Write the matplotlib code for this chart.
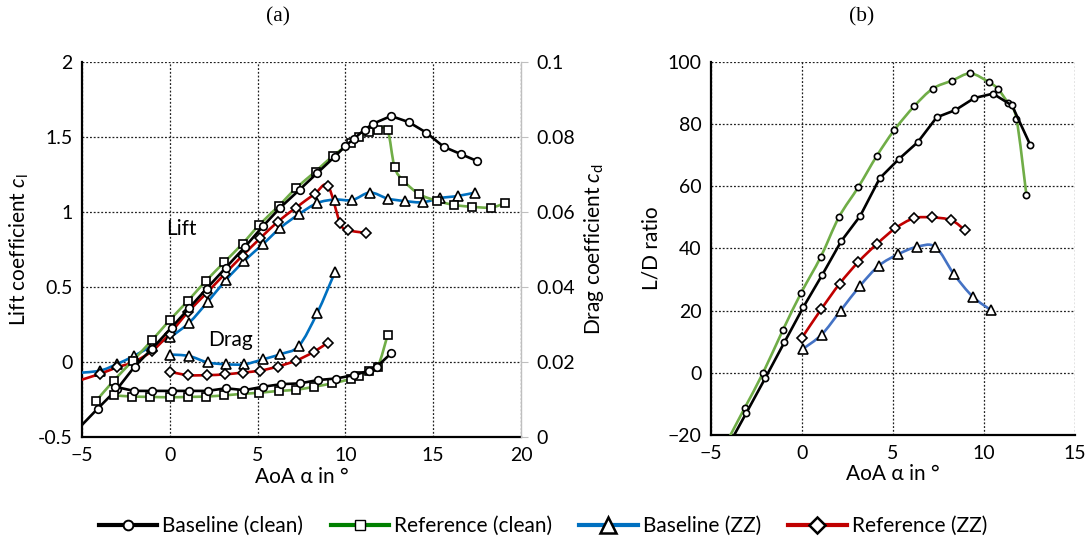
import numpy as np
import matplotlib
matplotlib.use('Agg')
import matplotlib.pyplot as plt
from matplotlib.path import Path
from matplotlib.patches import PathPatch
from matplotlib.lines import Line2D

plt.rcParams['font.family'] = ['Lato', 'DejaVu Sans']
plt.rcParams['mathtext.fontset'] = 'custom'
plt.rcParams['mathtext.rm'] = 'Lato'
plt.rcParams['mathtext.it'] = 'Lato:italic'

# ---------------- data: panel (a) lift ----------------
bc_lift_x = [-5.5, -4.1, -3.0, -2.0, -1.0, 0.1, 1.1, 2.1, 3.2, 4.3, 5.3, 6.3, 7.4, 8.4, 9.4,
             10.0, 10.5, 11.1, 11.6, 12.6, 13.6, 14.6, 15.6, 16.6, 17.5]
bc_lift_y = [-0.48, -0.31, -0.18, -0.03, 0.09, 0.23, 0.36, 0.49, 0.63, 0.77, 0.905, 1.03, 1.15, 1.26, 1.37,
             1.44, 1.49, 1.55, 1.59, 1.64, 1.60, 1.53, 1.435, 1.385, 1.34]

rc_lift_x = [-4.2, -3.2, -2.1, -1.0, 0.0, 1.05, 2.05, 3.1, 4.15, 5.1, 6.2, 7.2, 8.3, 9.3, 10.3,
             10.8, 11.35, 11.85, 12.4, 12.8, 13.3, 14.2, 15.2, 16.2, 17.2, 18.3, 19.1]
rc_lift_y = [-0.26, -0.125, 0.01, 0.147, 0.28, 0.41, 0.54, 0.665, 0.79, 0.915, 1.04, 1.16, 1.27, 1.375, 1.46,
             1.50, 1.535, 1.55, 1.547, 1.30, 1.21, 1.12, 1.075, 1.047, 1.035, 1.03, 1.06]

bz_lift_x = [-5.5, -4.0, -3.0, -2.05, -1.0, 0.0, 1.1, 2.15, 3.2, 4.25, 5.3, 6.3, 7.35, 8.4, 9.4,
             10.4, 11.4, 12.4, 13.4, 14.4, 15.4, 16.4, 17.4]
bz_lift_y = [-0.075, -0.058, -0.013, 0.04, 0.107, 0.165, 0.262, 0.40, 0.547, 0.675, 0.785, 0.895, 0.985, 1.06, 1.083,
             1.08, 1.13, 1.09, 1.073, 1.065, 1.093, 1.107, 1.13]

rz_lift_x = [-5.5, -4.0, -3.0, -2.05, -1.0, 0.0, 1.05, 2.1, 3.15, 4.15, 5.15, 6.15, 7.2, 8.25, 9.0,
             9.7, 10.15, 11.2]
rz_lift_y = [-0.135, -0.08, -0.035, 0.0, 0.075, 0.19, 0.335, 0.46, 0.59, 0.71, 0.825, 0.935, 1.03, 1.12, 1.175,
             0.925, 0.88, 0.86]

# ---------------- data: panel (a) drag ----------------
bc_drag_x = [-3.1, -2.05, -1.0, 0.1, 1.1, 2.15, 3.2, 4.25, 5.3, 6.35, 7.4, 8.45, 9.45, 10.5, 11.35, 11.8, 12.6]
bc_drag_y = [0.0134, 0.0123, 0.0123, 0.0123, 0.0123, 0.0123, 0.0130, 0.0125, 0.0134, 0.0141, 0.0143, 0.0152,
             0.0156, 0.0165, 0.0177, 0.0188, 0.0223]

rc_drag_x = [-3.15, -2.15, -1.1, 0.0, 1.05, 2.05, 3.1, 4.1, 5.1, 6.2, 7.2, 8.2, 9.25, 10.3, 10.8, 11.35, 11.85, 12.4]
rc_drag_y = [0.0111, 0.0108, 0.0107, 0.0106, 0.0107, 0.0108, 0.0111, 0.0115, 0.0118, 0.0123, 0.0126, 0.0134,
             0.0143, 0.0155, 0.0164, 0.0177, 0.0188, 0.0271]

bz_drag_x = [0.0, 1.1, 2.15, 3.2, 4.25, 5.3, 6.3, 7.35, 8.4, 9.4]
bz_drag_y = [0.0220, 0.0216, 0.0199, 0.0194, 0.0194, 0.0207, 0.0221, 0.0243, 0.0331, 0.0439]

rz_drag_x = [0.0, 1.05, 2.1, 3.15, 4.15, 5.15, 6.15, 7.2, 8.2, 9.0]
rz_drag_y = [0.0174, 0.0165, 0.0165, 0.0167, 0.0172, 0.0177, 0.0188, 0.0204, 0.0227, 0.0252]

# ---------------- data: panel (b) L/D ----------------
bc_ld_x = [-4.1, -3.06, -2.01, -0.97, 0.07, 1.12, 2.16, 3.2, 4.27, 5.31, 6.36, 7.4, 8.42, 9.47, 10.49, 11.54, 12.55]
bc_ld_y = [-24.0, -12.9, -1.6, 9.8, 21.1, 31.6, 42.4, 50.5, 62.6, 68.7, 74.2, 82.2, 84.5, 88.4, 89.8, 86.0, 73.2]

rc_ld_x = [-4.2, -3.15, -2.14, -1.04, -0.04, 1.03, 2.03, 3.1, 4.1, 5.07, 6.17, 7.18, 8.24, 9.25, 10.27,
           10.77, 11.32, 11.78, 12.33]
rc_ld_y = [-23.0, -11.3, 0.0, 13.9, 25.8, 37.3, 50.1, 59.8, 69.7, 78.1, 85.8, 91.4, 94.0, 96.3, 93.5,
           91.3, 86.7, 81.8, 57.1]

bz_ld_x = [0.05, 1.08, 2.12, 3.19, 4.23, 5.27, 6.3, 7.33, 8.35, 9.38, 10.4]
bz_ld_y = [7.7, 12.3, 20.0, 28.0, 34.5, 38.1, 40.5, 40.5, 31.7, 24.5, 20.1]

rz_ld_x = [0.0, 1.06, 2.07, 3.1, 4.14, 5.13, 6.14, 7.12, 8.2, 8.97]
rz_ld_y = [11.3, 20.5, 28.7, 35.7, 41.6, 46.5, 49.7, 50.0, 49.1, 45.8]

legend_labels = ['Baseline (clean)', 'Reference (clean)', 'Baseline (ZZ)', 'Reference (ZZ)']

C_BLACK = '#000000'
C_GREEN = '#70AD47'
C_BLUE = '#0070C0'
C_RED = '#C00000'
C_BLUE_B = '#4472C4'

LW = 1.9


def smooth_path(x, y):
    P = np.column_stack([np.asarray(x, float), np.asarray(y, float)])
    n = len(P)
    verts = [P[0]]
    codes = [Path.MOVETO]
    for i in range(n - 1):
        p0 = P[i - 1] if i > 0 else P[i]
        p1 = P[i]
        p2 = P[i + 1]
        p3 = P[i + 2] if i + 2 < n else P[i + 1]
        verts += [p1 + (p2 - p0) / 6.0, p2 - (p3 - p1) / 6.0, p2]
        codes += [Path.CURVE4] * 3
    return Path(verts, codes)


def series(ax, x, y, color, marker, ms, smooth, z=3):
    if smooth:
        ax.add_patch(PathPatch(smooth_path(x, y), fill=False, edgecolor=color, lw=LW,
                               zorder=z, capstyle='round', joinstyle='round'))
    else:
        ax.plot(x, y, color=color, lw=LW, zorder=z, solid_joinstyle='round')
    ax.plot(x, y, ls='none', marker=marker, ms=ms, mfc='white', mec='black', mew=1.2, zorder=z + 0.5)


fig = plt.figure(figsize=(10.86, 5.46), dpi=100)

GRID_KW = dict(color='#202020', linestyle=(0, (1.5, 1.5)), linewidth=0.9)
TICK_FS = 14
LAB_FS = 15

# ---------------- panel (a) ----------------
ax = fig.add_axes([0.0755, 0.1996, 0.4042, 0.6868])
ax2 = ax.twinx()
ax.set_xlim(-5, 20)
ax.set_ylim(-0.5, 2)
ax2.set_ylim(0, 0.1)
ax.set_xticks([-5, 0, 5, 10, 15, 20])
ax.set_yticks([-0.5, 0, 0.5, 1, 1.5, 2])
ax.set_yticklabels(['-0.5', '0', '0.5', '1', '1.5', '2'])
ax2.set_yticks([0, 0.02, 0.04, 0.06, 0.08, 0.1])
ax2.set_yticklabels(['0', '0.02', '0.04', '0.06', '0.08', '0.1'])
ax.grid(True, **GRID_KW)
ax.set_axisbelow(True)
for s in ['top', 'right']:
    ax.spines[s].set_visible(False)
for s in ['top', 'left', 'bottom']:
    ax2.spines[s].set_visible(False)
ax2.spines['right'].set_color('#BFBFBF')
ax2.spines['right'].set_linewidth(1.0)
ax.spines['left'].set_linewidth(1.6)
ax.spines['bottom'].set_linewidth(1.6)
ax.tick_params(length=0, labelsize=TICK_FS, pad=7)
ax2.tick_params(length=5, color='#BFBFBF', labelsize=TICK_FS, pad=6)

series(ax, bz_lift_x, bz_lift_y, C_BLUE, '^', 6.5, True)
series(ax, rz_lift_x, rz_lift_y, C_RED, 'D', 4.8, True)
series(ax, rc_lift_x, rc_lift_y, C_GREEN, 's', 5.5, True)
series(ax, bc_lift_x, bc_lift_y, C_BLACK, 'o', 5.5, False, z=4)

series(ax2, bz_drag_x, bz_drag_y, C_BLUE, '^', 6.5, True)
series(ax2, rz_drag_x, rz_drag_y, C_RED, 'D', 4.8, True)
series(ax2, rc_drag_x, rc_drag_y, C_GREEN, 's', 5.5, True)
series(ax2, bc_drag_x, bc_drag_y, C_BLACK, 'o', 5.5, False, z=4)

ax.text(-0.2, 0.89, 'Lift', fontsize=15, va='center', ha='left')
ax.text(2.2, 0.15, 'Drag', fontsize=15, va='center', ha='left')

ax.set_xlabel('AoA α in °', fontsize=LAB_FS, labelpad=2)
ax.set_ylabel('Lift coefficient $c_\\mathrm{l}$', fontsize=LAB_FS, labelpad=5)
ax2.set_ylabel('Drag coefficient $c_\\mathrm{d}$', fontsize=LAB_FS, labelpad=5)

# ---------------- panel (b) ----------------
bx = fig.add_axes([0.6547, 0.2033, 0.3352, 0.6832])
bx.set_xlim(-5, 15)
bx.set_ylim(-20, 100)
bx.set_xticks([-5, 0, 5, 10, 15])
bx.set_yticks([-20, 0, 20, 40, 60, 80, 100])
bx.grid(True, **GRID_KW)
bx.set_axisbelow(True)
for s in ['top', 'right']:
    bx.spines[s].set_visible(False)
bx.spines['left'].set_linewidth(1.6)
bx.spines['bottom'].set_linewidth(1.6)
bx.tick_params(length=0, labelsize=TICK_FS, pad=7)

series(bx, bz_ld_x, bz_ld_y, C_BLUE_B, '^', 6.5, True)
series(bx, rz_ld_x, rz_ld_y, C_RED, 'D', 4.8, True)
series(bx, rc_ld_x, rc_ld_y, C_GREEN, 'o', 4.5, True)
series(bx, bc_ld_x, bc_ld_y, C_BLACK, 'o', 4.5, False, z=4)

bx.set_xlabel('AoA α in °', fontsize=LAB_FS, labelpad=2)
bx.set_ylabel('L/D ratio', fontsize=LAB_FS, labelpad=4)

# titles
fig.text(278 / 1086, 1 - 17 / 546, '(a)', fontsize=15.5, family='Liberation Serif', ha='center', va='center')
fig.text(862 / 1086, 1 - 17 / 546, '(b)', fontsize=15.5, family='Liberation Serif', ha='center', va='center')

# legend
handles = [
    Line2D([], [], color=C_BLACK, lw=3, marker='o', ms=7, mfc='white', mec='black', mew=1.4),
    Line2D([], [], color='#008000', lw=3, marker='s', ms=6.5, mfc='white', mec='black', mew=1.0),
    Line2D([], [], color=C_BLUE, lw=3, marker='^', ms=11, mfc='white', mec='black', mew=1.8),
    Line2D([], [], color=C_RED, lw=3, marker='D', ms=8, mfc='white', mec='black', mew=1.8),
]
fig.legend(handles, legend_labels, loc='center', bbox_to_anchor=(0.5, 1 - 526 / 546), ncol=4,
           frameon=False, fontsize=15, handlelength=2.8, handletextpad=0.25, columnspacing=1.3)

fig.savefig('out.png', dpi=100)
